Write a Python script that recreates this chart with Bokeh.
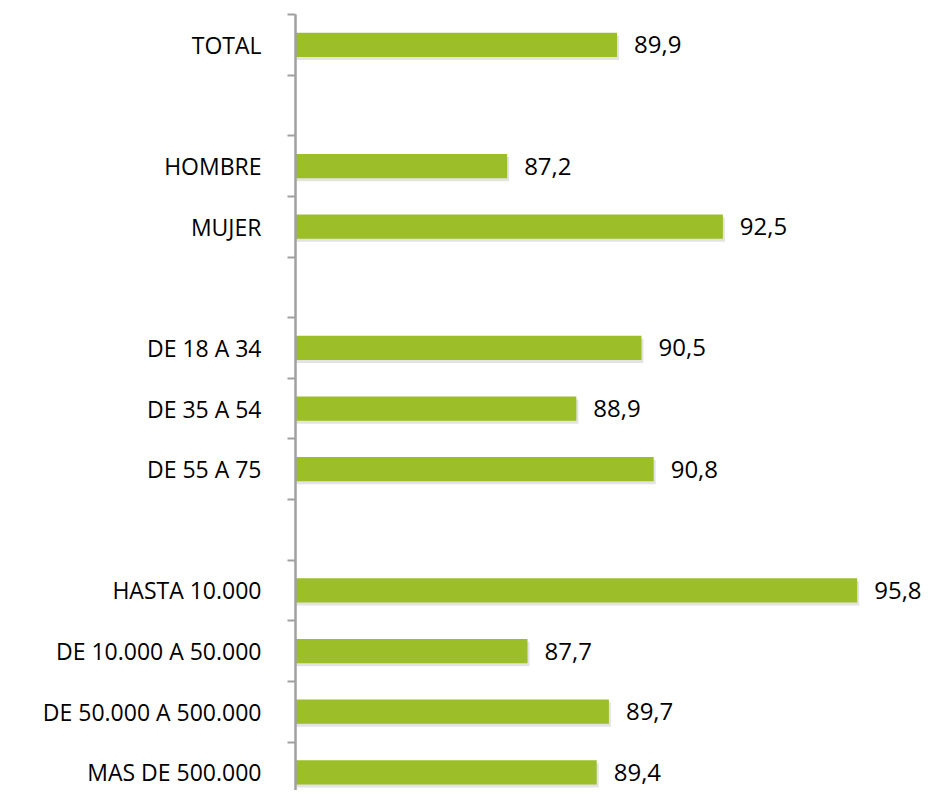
from bokeh.plotting import figure
from bokeh.models import ColumnDataSource, Range1d, FixedTicker
from bokeh.core.properties import value
from bokeh.embed import file_html
from bokeh.resources import INLINE

# ---- data ----
categories = ["TOTAL", "", "HOMBRE", "MUJER", "", "DE 18 A 34", "DE 35 A 54",
              "DE 55 A 75", "", "HASTA 10.000", "DE 10.000 A 50.000",
              "DE 50.000 A 500.000", "MAS DE 500.000"]
values = [89.9, None, 87.2, 92.5, None, 90.5, 88.9, 90.8, None, 95.8, 87.7, 89.7, 89.4]

X_MIN = 82
X_MAX = 97.38

n = len(categories)
centers = [n - i - 0.5 for i in range(n)]
bar_y = [c for c, v in zip(centers, values) if v is not None]
bar_v = [v for v in values if v is not None]
bar_lab = [f"{v:.1f}".replace(".", ",") for v in bar_v]

src = ColumnDataSource(dict(y=bar_y, v=bar_v, lab=bar_lab,
                            ys=[y - 0.05 for y in bar_y],
                            vs=[v + 0.05 for v in bar_v]))

p = figure(width=921, height=790, output_backend="svg", toolbar_location=None,
           x_range=Range1d(X_MIN, X_MAX), y_range=Range1d(0.2, n),
           min_border_left=295, min_border_right=0, min_border_top=14,
           min_border_bottom=0)

# shadow
p.hbar(y="ys", left=X_MIN, right="vs", height=0.40, source=src,
       fill_color="#7f7f7f", fill_alpha=0.22, line_color=None)
# bars
p.hbar(y="y", left=X_MIN, right="v", height=0.40, source=src,
       fill_color="#9BBE29", line_color=None)
# value labels
p.text(x="v", y="y", text="lab", source=src, x_offset=17,
       text_align="left", text_baseline="middle",
       text_font=value("Open Sans"), text_font_size="24px", text_color="#000000")

p.xaxis.visible = False
p.grid.visible = False
p.outline_line_color = None

ax = p.yaxis[0]
named_centers = [c for c, name in zip(centers, categories) if name]
ax.ticker = FixedTicker(ticks=named_centers, minor_ticks=list(range(0, n + 1)))
ax.major_label_overrides = {c: name for c, name in zip(centers, categories) if name}
ax.major_tick_out = 0
ax.major_tick_in = 0
ax.minor_tick_out = 8
ax.minor_tick_in = 0
ax.minor_tick_line_color = "#a0a0a0"
ax.minor_tick_line_width = 2
ax.axis_line_color = "#a0a0a0"
ax.axis_line_width = 2.5
ax.major_label_standoff = 26
ax.major_label_text_font = "Open Sans"
ax.major_label_text_font_size = "23px"
ax.major_label_text_color = "#000000"

open("out.html", "w").write(file_html(p, INLINE))
